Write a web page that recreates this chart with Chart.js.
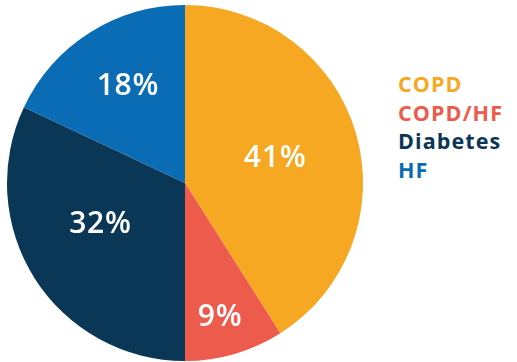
<!DOCTYPE html>
<html lang="en">
<head>
    <meta charset="UTF-8">
    <title>Patients by condition</title>
    <style>
        body { margin: 0; background: #fff; font-family: "Open Sans", Arial, sans-serif; }
        .wrap { position: relative; width: 517px; height: 362px; }
        .chart-box { position: absolute; left: 0; top: 0; width: 370px; height: 362px; }
        #legend { position: absolute; left: 398px; top: 70px; margin: 0; padding: 0; list-style: none; }
        #legend li { font-weight: 700; font-size: 21.5px; line-height: 28.5px; letter-spacing: 1.1px; }
    </style>
    <script src="https://cdn.jsdelivr.net/npm/chart.js"></script>
</head>
<body>
    <div class="wrap">
        <div class="chart-box"><canvas id="pieChart"></canvas></div>
        <ul id="legend"></ul>
    </div>

    <script>
        // data
        const categories = ['COPD', 'COPD/HF', 'Diabetes', 'HF'];
        const shares = [41, 9, 32, 18];
        const colors = ['#F7A823', '#EC5B4B', '#0B3756', '#0A6CB5'];

        // legend as coloured text
        const legend = document.getElementById('legend');
        categories.forEach(function (name, i) {
            const li = document.createElement('li');
            li.textContent = name;
            li.style.color = colors[i];
            legend.appendChild(li);
        });

        // percent labels inside the slices (radius fraction + small angle shift per slice)
        const sliceLabels = {
            id: 'sliceLabels',
            afterDatasetsDraw(chart) {
                const ctx = chart.ctx;
                const radii = [0.52, 0.78, 0.533, 0.635];
                const shift = [0.5, 2, 6.8, 1.5];
                ctx.save();
                ctx.fillStyle = '#fff';
                ctx.font = '600 30px "Open Sans", Arial, sans-serif';
                ctx.letterSpacing = '0.8px';
                ctx.textAlign = 'center';
                ctx.textBaseline = 'middle';
                chart.getDatasetMeta(0).data.forEach(function (arc, i) {
                    const mid = (arc.startAngle + arc.endAngle) / 2 + shift[i] * Math.PI / 180;
                    const r = arc.outerRadius * radii[i];
                    ctx.fillText(shares[i] + '%', arc.x + Math.cos(mid) * r + 1, arc.y + Math.sin(mid) * r);
                });
                ctx.restore();
            }
        };

        new Chart(document.getElementById('pieChart'), {
            type: 'pie',
            data: {
                labels: categories,
                datasets: [{
                    data: shares,
                    backgroundColor: colors,
                    borderWidth: 0
                }]
            },
            options: {
                responsive: true,
                maintainAspectRatio: false,
                animation: false,
                layout: { padding: { top: 5, bottom: 1, left: 7, right: 7 } },
                plugins: {
                    legend: { display: false },
                    tooltip: { enabled: false }
                }
            },
            plugins: [sliceLabels]
        });
    </script>
</body>
</html>
